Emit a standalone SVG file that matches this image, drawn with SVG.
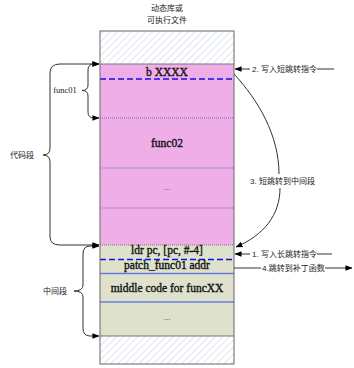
<svg xmlns="http://www.w3.org/2000/svg" width="354" height="368" viewBox="0 0 354 368">
<defs>
<pattern id="hatch" patternUnits="userSpaceOnUse" width="5" height="5" patternTransform="rotate(45)">
<rect width="5" height="5" fill="#ffffff"/>
<line x1="0" y1="0" x2="0" y2="5" stroke="#bccae4" stroke-width="1"/>
</pattern>
<marker id="arr" viewBox="0 0 8 8" refX="7.5" refY="4" markerWidth="7" markerHeight="7" markerUnits="userSpaceOnUse" orient="auto-start-reverse">
<path d="M0,0.8 L8,4 L0,7.2 Z" fill="#000"/>
</marker>
<style>
.cn{font-family:"Liberation Sans","Noto Sans CJK SC",sans-serif;font-size:8px;fill:#222}
.code{font-family:"Liberation Serif","Noto Sans CJK SC",serif;font-size:11.5px;fill:#111;stroke:#111;stroke-width:0.35;text-anchor:middle}
.ell{font-family:"Liberation Serif",serif;font-size:9px;fill:#444;text-anchor:middle}
.conn{fill:none;stroke:#333;stroke-width:1}
.dot{stroke:#5a78c8;stroke-width:1;stroke-dasharray:1 1}
.dash{stroke:#1010e8;stroke-width:1.6;stroke-dasharray:6 3}
.sol{stroke:#6a78e0;stroke-width:1.6}
</style>
</defs>
<rect width="354" height="368" fill="#ffffff"/>

<g id="title">
<text class="cn" x="167" y="11" text-anchor="middle">动态库或</text>
<text class="cn" x="167" y="23" text-anchor="middle">可执行文件</text>
</g>

<g id="memory">
<rect x="100" y="31" width="134" height="33" fill="url(#hatch)"/>
<rect x="100" y="64" width="134" height="181" fill="#efaee8"/>
<rect x="100" y="245" width="134" height="91" fill="#dee2cd"/>
<rect x="100" y="336" width="134" height="28" fill="url(#hatch)"/>
<line x1="100" y1="64" x2="234" y2="64" stroke="#777" stroke-width="1"/>
<line x1="100" y1="245" x2="234" y2="245" stroke="#777" stroke-width="1" stroke-dasharray="1 1"/>
<line x1="100" y1="336" x2="234" y2="336" stroke="#777" stroke-width="1"/>
<line class="dash" x1="100" y1="79" x2="234" y2="79"/>
<line class="dot" x1="100" y1="118" x2="234" y2="118"/>
<line class="dot" x1="100" y1="168" x2="234" y2="168"/>
<line class="dot" x1="100" y1="208" x2="234" y2="208"/>
<line class="dash" x1="100" y1="259.5" x2="234" y2="259.5"/>
<line class="sol" x1="100" y1="273.5" x2="234" y2="273.5"/>
<line class="sol" x1="100" y1="302" x2="234" y2="302"/>
<rect x="100" y="31" width="134" height="333" fill="none" stroke="#666" stroke-width="1"/>
</g>

<g id="n-bxxxx"><text class="code" x="167" y="76">b XXXX</text></g>
<g id="n-func02"><text class="code" x="167" y="147" font-size="13">func02</text></g>
<g id="n-dots1"><text class="ell" x="167" y="190">...</text></g>
<g id="n-ldr"><text class="code" x="167" y="254">ldr pc, [pc, #-4]</text></g>
<g id="n-patch"><text class="code" x="167" y="269">patch_func01 addr</text></g>
<g id="n-middle"><text class="code" x="167" y="292">middle code for funcXX</text></g>
<g id="n-dots2"><text class="ell" x="167" y="320">...</text></g>

<g id="n-func01-label"><text x="65" y="93" text-anchor="middle" style="font-family:'Liberation Serif',serif;font-size:8.5px;fill:#222">func01</text></g>
<g id="n-code-label"><text class="cn" x="22" y="158" text-anchor="middle">代码段</text></g>
<g id="n-mid-label"><text class="cn" x="55" y="294" text-anchor="middle">中间段</text></g>

<g id="labels">
<text class="cn" x="252" y="72">2. 写入短跳转指令</text>
<text class="cn" x="250" y="184">3. 短跳转到中间段</text>
<text class="cn" x="252" y="257">1. 写入长跳转指令</text>
<text class="cn" x="262" y="271">4.跳转到补丁函数</text>
</g>

<g id="connectors">
<path class="conn" d="M99,64 L60,64 Q50,64 50,73 L50,148 Q50,155 43,155 Q50,155 50,162 L50,237 Q50,245 60,245 L99,245" marker-start="url(#arr)" marker-end="url(#arr)"/>
<path class="conn" d="M99,64 L94,64 Q88,64 88,70 L88,85 Q88,90.5 82,90.5 Q88,90.5 88,96 L88,112 Q88,118 94,118 L99,118" marker-start="url(#arr)" marker-end="url(#arr)"/>
<path class="conn" d="M99,246 L90,246 Q83,246 83,254 L83,285 Q83,291 74,291 Q83,291 83,297 L83,328 Q83,336 90,336 L99,336" marker-start="url(#arr)" marker-end="url(#arr)"/>
<path class="conn" d="M250,69 L235,69" marker-end="url(#arr)"/>
<path class="conn" d="M317,69 L334,69"/>
<path class="conn" d="M234,74 C258,100 279,135 279,174"/>
<path class="conn" d="M280,188 C280,215 264,235 236,247" marker-end="url(#arr)"/>
<path class="conn" d="M250,254 L235,254" marker-end="url(#arr)"/>
<path class="conn" d="M317,254 L332,254"/>
<path class="conn" d="M234,268 L261,268"/>
<path class="conn" d="M325,268 L352,268" marker-end="url(#arr)"/>
</g>
</svg>
